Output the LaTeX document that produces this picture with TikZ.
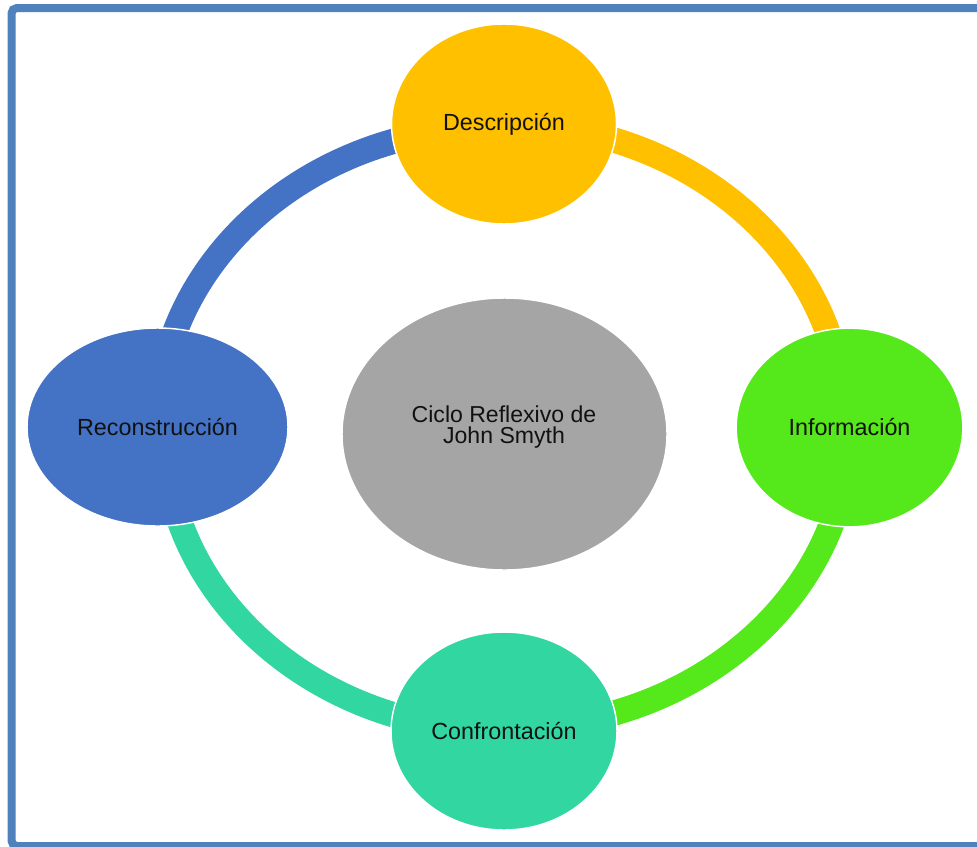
\documentclass[tikz,border=0pt]{standalone}
\usepackage{fontspec}
\setmainfont{Liberation Sans}
\usetikzlibrary{shapes.geometric}
\definecolor{framec}{HTML}{4F81BD}
\definecolor{cyellow}{HTML}{FFC000}
\definecolor{cgreen}{HTML}{55E81B}
\definecolor{cteal}{HTML}{31D6A1}
\definecolor{cblue}{HTML}{4472C4}
\definecolor{cgray}{HTML}{A5A5A5}
\definecolor{ctext}{HTML}{111111}
\begin{document}
\begin{tikzpicture}[x=0.75pt,y=-0.75pt,
  ring/.style={line width=19pt},
  stage/.style={ellipse, draw=white, line width=1.1pt, inner sep=0pt,
    text=ctext, font=\fontsize{17.5}{16}\selectfont},
  lbl/.style={text=ctext, font=\fontsize{17.3}{15.8}\selectfont, align=center, inner sep=0pt}]
\useasboundingbox (0,0) rectangle (977,846);
% frame
\draw[framec, line width=6pt, rounded corners=4pt] (11.5,8) rectangle (995,846);
% node positions
\coordinate (pd) at (504,124);
\coordinate (pi) at (849.5,427.5);
\coordinate (pc) at (504,731);
\coordinate (pr) at (157.5,427);
% ring arcs
\draw[ring, cblue]   (pr) arc[start angle=180, end angle=270, x radius=340, y radius=300];
\draw[ring, cyellow] (pd) arc[start angle=270, end angle=360, x radius=340, y radius=300];
\draw[ring, cgreen]  (pi) arc[start angle=0,   end angle=90,  x radius=340, y radius=300];
\draw[ring, cteal]   (pc) arc[start angle=90,  end angle=180, x radius=340, y radius=300];
% nodes
\node[stage, fill=cyellow, minimum width=168.75pt, minimum height=150pt] (desc) at (pd) {Descripción};
\node[stage, fill=cgreen, minimum width=170pt, minimum height=149pt] (info) at (pi) {Información};
\node[stage, fill=cteal, minimum width=169.5pt, minimum height=148.5pt] (conf) at (pc) {Confrontación};
\node[stage, fill=cblue, minimum width=195.75pt, minimum height=148.5pt] (recon) at (pr) {Reconstrucción};
\node[stage, fill=cgray, minimum width=243.75pt, minimum height=204pt] (core) at (504.5,434) {};
\node[lbl] (coretext) at (504,427) {Ciclo Reflexivo de\\John Smyth};
\end{tikzpicture}
\end{document}
